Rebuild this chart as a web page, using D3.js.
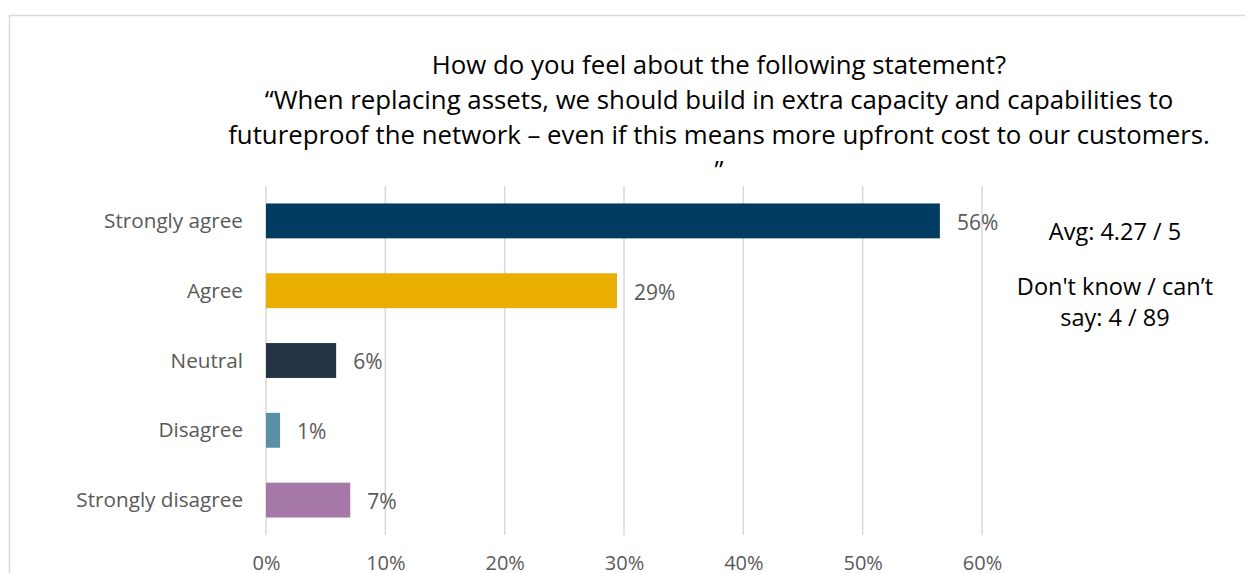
<!DOCTYPE html>
<html>
<head>
<meta charset="utf-8">
<script src="https://cdn.jsdelivr.net/npm/d3@7/dist/d3.min.js"></script>
<style>
  html, body { margin: 0; padding: 0; background: #fff; }
  svg { display: block; }
  text { font-family: "Open Sans", Lato, sans-serif; }
</style>
</head>
<body>
<svg id="chart" width="1245" height="573"></svg>
<script>
// Survey responses (share of 85 answering respondents)
const categories = ["Strongly agree", "Agree", "Neutral", "Disagree", "Strongly disagree"];
const values = [56.47, 29.41, 5.88, 1.18, 7.06];
const colors = ["#003B62", "#E9AE00", "#243444", "#5B8FA3", "#A678A7"];
const ticks = [0, 10, 20, 30, 40, 50, 60];
const titleLines = [
  "How do you feel about the following statement?",
  "\u201CWhen replacing assets, we should build in extra capacity and capabilities to",
  "futureproof the network \u2013 even if this means more upfront cost to our customers.",
  "\u201D"
];
const notes = [
  { text: "Avg: 4.27 / 5", line: 0 },
  { text: "Don't know / can\u2019t", line: 1.72 },
  { text: "say: 4 / 89", line: 2.7 }
];

const FONT = "'Open Sans', Lato, sans-serif";
const svg = d3.select("#chart");

// chart frame
svg.append("rect")
  .attr("x", 9.5).attr("y", 15.5)
  .attr("width", 1300).attr("height", 700)
  .attr("fill", "none").attr("stroke", "#d9d9d9").attr("stroke-width", 1.5);

const plot = { left: 266, right: 982, top: 186, bottom: 535 };

const x = d3.scaleLinear().domain([0, 60]).range([plot.left, plot.right]);
const y = d3.scaleBand().domain(categories).range([plot.top, plot.bottom]).paddingInner(0.5).paddingOuter(0.25);

// vertical gridlines
svg.append("g").selectAll("line").data(ticks).join("line")
  .attr("x1", d => x(d)).attr("x2", d => x(d))
  .attr("y1", plot.top).attr("y2", plot.bottom)
  .attr("stroke", "#d9d9d9").attr("stroke-width", 1.5);

// x axis tick labels
const xAxis = d3.axisBottom(x).tickValues(ticks).tickFormat(d => d + "%").tickSize(0).tickPadding(0);
const gx = svg.append("g").attr("transform", `translate(0,${plot.bottom})`).call(xAxis);
gx.select(".domain").remove();
gx.selectAll("text").attr("y", 35).attr("dy", 0)
  .attr("fill", "#595959").style("font-size", "20px").style("font-family", FONT);

// category labels
const yAxis = d3.axisLeft(y).tickSize(0).tickPadding(23);
const gy = svg.append("g").attr("transform", `translate(${plot.left},0)`).call(yAxis);
gy.select(".domain").remove();
gy.selectAll("text").attr("fill", "#595959").attr("dy", "0.34em").style("font-size", "20.7px")
  .style("font-family", FONT);

// bars
svg.append("g").selectAll("rect").data(values).join("rect")
  .attr("x", x(0))
  .attr("y", (d, i) => y(categories[i]))
  .attr("width", d => x(d) - x(0))
  .attr("height", y.bandwidth())
  .attr("fill", (d, i) => colors[i]);

// value labels
svg.append("g").selectAll("text").data(values).join("text")
  .attr("x", d => x(d) + 17)
  .attr("y", (d, i) => y(categories[i]) + y.bandwidth() / 2)
  .attr("dy", "0.42em")
  .attr("fill", "#595959").style("font-size", "21px")
  .text(d => Math.round(d) + "%");

// title
svg.append("g").selectAll("text").data(titleLines).join("text")
  .attr("x", 719)
  .attr("y", (d, i) => 74 + i * 35)
  .attr("text-anchor", "middle")
  .attr("fill", "#000").style("font-size", "25.8px")
  .text(d => d);

// side notes
svg.append("g").selectAll("text").data(notes).join("text")
  .attr("x", 1115)
  .attr("y", d => 240 + d.line * 32)
  .attr("text-anchor", "middle")
  .attr("fill", "#000").style("font-size", "23.5px")
  .text(d => d.text);
</script>
</body>
</html>
